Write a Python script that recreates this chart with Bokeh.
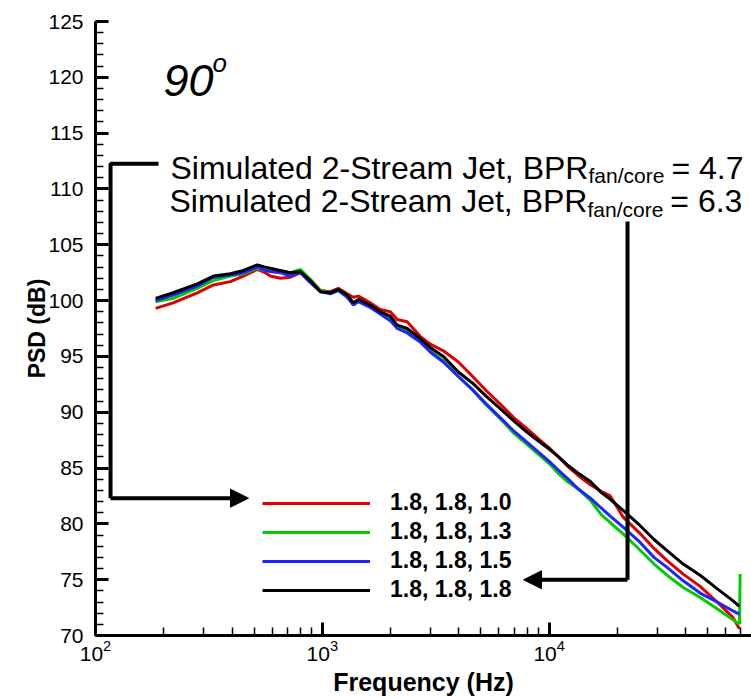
from bokeh.plotting import figure
from bokeh.models import (Label, Legend, LegendItem, Arrow, NormalHead,
                          SingleIntervalTicker, LogTicker, Range1d)
from bokeh.embed import file_html
from bokeh.resources import INLINE

# ---------------- data ----------------
freq = [184, 220, 281, 331, 393, 449, 517, 560, 590, 653, 723, 800, 885, 980,
        1084, 1176, 1288, 1370, 1443, 1625, 1800, 1995, 2140, 2367, 2700, 2990,
        3415, 3980, 4600, 5300, 6100, 7000, 8000, 9000, 10000, 11000, 12000,
        13300, 15200, 17000, 18600, 21200, 25000, 29000, 33100, 39000, 46300,
        55000, 64700, 69000]

red_db = [99.3, 99.8, 100.7, 101.4, 101.7, 102.2, 102.8, 102.5, 102.2, 102.0,
          102.1, 102.5, 101.9, 100.9, 100.8, 101.1, 100.6, 100.3, 100.4, 99.8,
          99.2, 99.0, 98.3, 98.1, 96.8, 96.1, 95.5, 94.5, 93.2, 91.9, 90.7,
          89.5, 88.5, 87.6, 86.8, 86.0, 85.2, 84.4, 83.5, 82.9, 82.5, 80.6,
          79.2, 77.8, 76.7, 75.5, 74.4, 73.0, 71.6, 70.6]

green_db = [99.9, 100.2, 101.1, 101.8, 102.2, 102.4, 102.9, 102.7, 102.7, 102.6,
            102.5, 102.8, 101.9, 100.9, 100.7, 101.0, 100.4, 99.7, 100.0, 99.5,
            98.9, 98.3, 97.6, 97.2, 96.4, 95.5, 94.6, 93.2, 92.0, 90.6, 89.4,
            88.1, 87.1, 86.2, 85.4, 84.5, 83.8, 83.2, 82.1, 80.8, 80.1, 79.1,
            77.7, 76.4, 75.4, 74.3, 73.4, 72.4, 71.4, 71.0]
green_end_freq = [69000, 69500]
green_end_db = [71.0, 75.5]

blue_db = [100.0, 100.5, 101.3, 102.1, 102.3, 102.5, 103.0, 102.7, 102.6, 102.5,
           102.2, 102.5, 101.6, 100.8, 100.6, 100.9, 100.3, 99.6, 99.9, 99.4,
           98.8, 98.2, 97.5, 97.1, 96.3, 95.4, 94.5, 93.2, 92.0, 90.7, 89.5,
           88.3, 87.3, 86.4, 85.6, 84.8, 84.1, 83.2, 82.3, 81.4, 80.7, 79.7,
           78.4, 77.0, 76.1, 74.9, 73.8, 73.0, 72.2, 71.9]

black_db = [100.2, 100.7, 101.5, 102.2, 102.4, 102.7, 103.2, 103.0, 102.9, 102.7,
            102.5, 102.6, 101.8, 100.8, 100.7, 101.0, 100.5, 99.8, 100.1, 99.6,
            99.0, 98.6, 97.8, 97.5, 96.6, 95.8, 95.0, 93.6, 92.6, 91.4, 90.3,
            89.2, 88.2, 87.4, 86.7, 86.0, 85.3, 84.6, 83.8, 82.8, 82.2, 81.2,
            79.9, 78.6, 77.6, 76.4, 75.4, 74.2, 73.1, 72.6]

series_labels = ["1.8, 1.8, 1.0", "1.8, 1.8, 1.3", "1.8, 1.8, 1.5", "1.8, 1.8, 1.8"]
series_colors = ["#dd0000", "#00cc00", "#2222ff", "#000000"]

annot_line1 = ["Simulated 2-Stream Jet, BPR", "fan/core", "= 4.7"]
annot_line2 = ["Simulated 2-Stream Jet, BPR", "fan/core", "= 6.3"]

FONT = "Liberation Sans"

# ---------------- figure ----------------
p = figure(width=751, height=698, x_axis_type="log",
           x_range=Range1d(100, 78000), y_range=Range1d(70, 125),
           output_backend="svg", toolbar_location=None,
           min_border_left=95, min_border_right=0,
           min_border_top=21, min_border_bottom=60)
p.outline_line_color = None
p.xgrid.visible = False
p.ygrid.visible = False
p.background_fill_color = "white"

# axes
for ax in (p.xaxis[0], p.yaxis[0]):
    ax.axis_line_width = 3
    ax.major_tick_in = 13
    ax.major_tick_out = 0
    ax.minor_tick_in = 8
    ax.minor_tick_out = 0
    ax.major_tick_line_width = 3
    ax.minor_tick_line_width = 1.5
    ax.major_label_text_font = FONT
    ax.major_label_text_font_size = "21px"
    ax.major_label_text_color = "black"
    ax.axis_label_text_font = FONT
    ax.axis_label_text_font_style = "bold"
    ax.axis_label_text_color = "black"

p.xaxis.ticker = LogTicker(desired_num_ticks=3, num_minor_ticks=10)
p.yaxis.ticker = SingleIntervalTicker(interval=5, num_minor_ticks=5)
p.xaxis.axis_label = "Frequency (Hz)"
p.yaxis.axis_label = "PSD (dB)"
p.xaxis.axis_label_text_font_size = "25px"
p.yaxis.axis_label_text_font_size = "23px"
p.xaxis.major_label_standoff = 4
p.yaxis.major_label_standoff = 12
p.xaxis.axis_label_standoff = 4
p.yaxis.axis_label_standoff = -5

# curves
r_red = p.line(freq, red_db, line_color=series_colors[0], line_width=3)
r_green = p.line(freq, green_db, line_color=series_colors[1], line_width=3)
p.line(green_end_freq, green_end_db, line_color=series_colors[1], line_width=3)
r_blue = p.line(freq, blue_db, line_color=series_colors[2], line_width=3)
r_black = p.line(freq, black_db, line_color=series_colors[3], line_width=3)

legend = Legend(items=[LegendItem(label=series_labels[i], renderers=[r])
                       for i, r in enumerate([r_red, r_green, r_blue, r_black])],
                location=(167, 32), orientation="vertical",
                glyph_width=108, glyph_height=24, label_height=24,
                label_standoff=20, spacing=2, padding=0, margin=0,
                border_line_color=None, background_fill_alpha=0,
                label_text_font=FONT, label_text_font_style="bold",
                label_text_font_size="23px", label_text_color="black")
p.add_layout(legend, "center")

# "90o" label
p.add_layout(Label(x=199.5, y=119.7, text="90", text_font=FONT,
                   text_font_style="italic", text_font_size="45px",
                   text_color="black", text_baseline="alphabetic"))
p.add_layout(Label(x=328, y=121.3, text="o", text_font=FONT,
                   text_font_style="italic", text_font_size="26px",
                   text_color="black", text_baseline="alphabetic"))

# annotation text
for line, y_base, x_split, x_end in ((annot_line1, 111.9, 14900, 71900),
                                     (annot_line2, 108.9, 14750, 71100)):
    p.add_layout(Label(x=x_split, y=y_base, text=line[0], text_font=FONT,
                       text_font_size="32px", text_color="black",
                       text_align="right", text_baseline="alphabetic"))
    p.add_layout(Label(x=x_split, y=y_base - 0.7, text=line[1], text_font=FONT,
                       text_font_size="21px", text_color="black",
                       text_align="left", text_baseline="alphabetic"))
    p.add_layout(Label(x=x_end, y=y_base, text=line[2], text_font=FONT,
                       text_font_size="32px", text_color="black",
                       text_align="right", text_baseline="alphabetic"))

# annotation brackets / arrows
p.line([189.6, 116.5, 116.5], [112.25, 112.25, 82.30], line_color="black",
       line_width=4)
p.add_layout(Arrow(x_start=116.5, y_start=82.30, x_end=472.7, y_end=82.30,
                   line_color="black", line_width=4,
                   end=NormalHead(size=18, fill_color="black",
                                  line_color="black")))
p.line([22160, 22160], [107.08, 74.99], line_color="black", line_width=4)
p.add_layout(Arrow(x_start=22160, y_start=74.99, x_end=7712, y_end=74.99,
                   line_color="black", line_width=4,
                   end=NormalHead(size=18, fill_color="black",
                                  line_color="black")))

open("out.html", "w").write(file_html(p, INLINE))
